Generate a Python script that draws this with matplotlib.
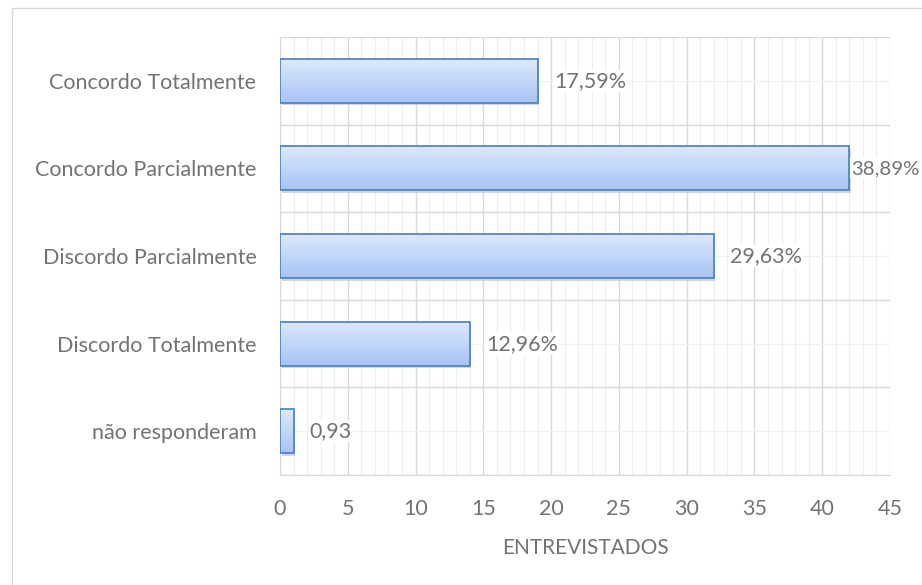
import matplotlib
matplotlib.use("Agg")
import matplotlib.pyplot as plt
import numpy as np
from matplotlib.patches import Rectangle
from matplotlib.ticker import MultipleLocator
from matplotlib.colors import LinearSegmentedColormap

categories = ["Concordo Totalmente", "Concordo Parcialmente", "Discordo Parcialmente",
              "Discordo Totalmente", "não responderam"]
values = [19, 42, 32, 14, 1]
labels = ["17,59%", "38,89%", "29,63%", "12,96%", "0,93"]
xticks = [0, 5, 10, 15, 20, 25, 30, 35, 40, 45]

plt.rcParams['font.family'] = ['Lato', 'DejaVu Sans']
txt = '#737373'
fs = 15.5

fig = plt.figure(figsize=(9.22, 5.85), dpi=100)
fig.patches.append(Rectangle((12/922, -0.05), 1.1, 1 - 8/585 + 0.05, transform=fig.transFigure,
                             fill=False, edgecolor='#d9d9d9', linewidth=1.0))
ax = fig.add_axes([280/922, 1 - 475/585, 610/922, 438/585])

n = len(categories)
ypos = np.arange(n)[::-1]
bars = ax.barh(ypos, values, height=0.5, color='none', edgecolor='#4a7ebb', linewidth=1.2, zorder=6)

grad = np.linspace(0, 1, 100).reshape(-1, 1)
cmap = LinearSegmentedColormap.from_list('g', ['#dde9fd', '#a7c4f5'])
for b in bars:
    x0, y0 = b.get_x(), b.get_y()
    w, h = b.get_width(), b.get_height()
    ax.add_patch(Rectangle((x0 + 0.12, y0 - 0.03), w, h, facecolor='#bbbbbb', edgecolor='none',
                           alpha=0.6, zorder=2))
    im = ax.imshow(grad[::-1], extent=[x0, x0 + w, y0, y0 + h], cmap=cmap, aspect='auto',
                   origin='lower', zorder=3)
    im.set_clip_path(b)

xmax = xticks[-1]
for b, lab in zip(bars, labels):
    w = b.get_width()
    fits = w + 6.5 <= xmax
    off = 1.2 if fits else 0.15
    ax.text(w + off, b.get_y() + b.get_height() / 2, lab, va='center', ha='left',
            color=txt, fontsize=fs if fits else fs - 0.8, zorder=5, clip_on=False,
            bbox=dict(facecolor='white', edgecolor='none', pad=1))

ax.set_xlim(0, xmax)
ax.set_ylim(-0.5, n - 0.5)
ax.set_xticks(xticks)
ax.set_xticklabels([str(t) for t in xticks])
ax.xaxis.set_minor_locator(MultipleLocator(1))
ax.set_yticks(ypos)
ax.set_yticklabels(categories)
ax.set_yticks(np.arange(-0.5, n, 1.0), minor=True)

ax.grid(True, which='major', axis='x', color='#d9d9d9', linewidth=1.0, zorder=0)
ax.grid(True, which='minor', axis='x', color='#eeeeee', linewidth=0.8, zorder=0)
ax.grid(True, which='minor', axis='y', color='#d9d9d9', linewidth=1.0, zorder=0)
ax.grid(True, which='major', axis='y', color='#f0f0f0', linewidth=0.8, zorder=0)
ax.set_axisbelow(True)

for s in ['top', 'right']:
    ax.spines[s].set_visible(False)
ax.spines['left'].set_color('#d9d9d9')
ax.spines['bottom'].set_color('#d9d9d9')
ax.tick_params(axis='both', which='both', length=0, colors=txt, labelsize=fs)
ax.tick_params(axis='x', pad=17)
ax.tick_params(axis='y', pad=17)
ax.set_xlabel('ENTREVISTADOS', color=txt, fontsize=fs - 0.5, labelpad=14)

fig.savefig('out.png', dpi=100)
